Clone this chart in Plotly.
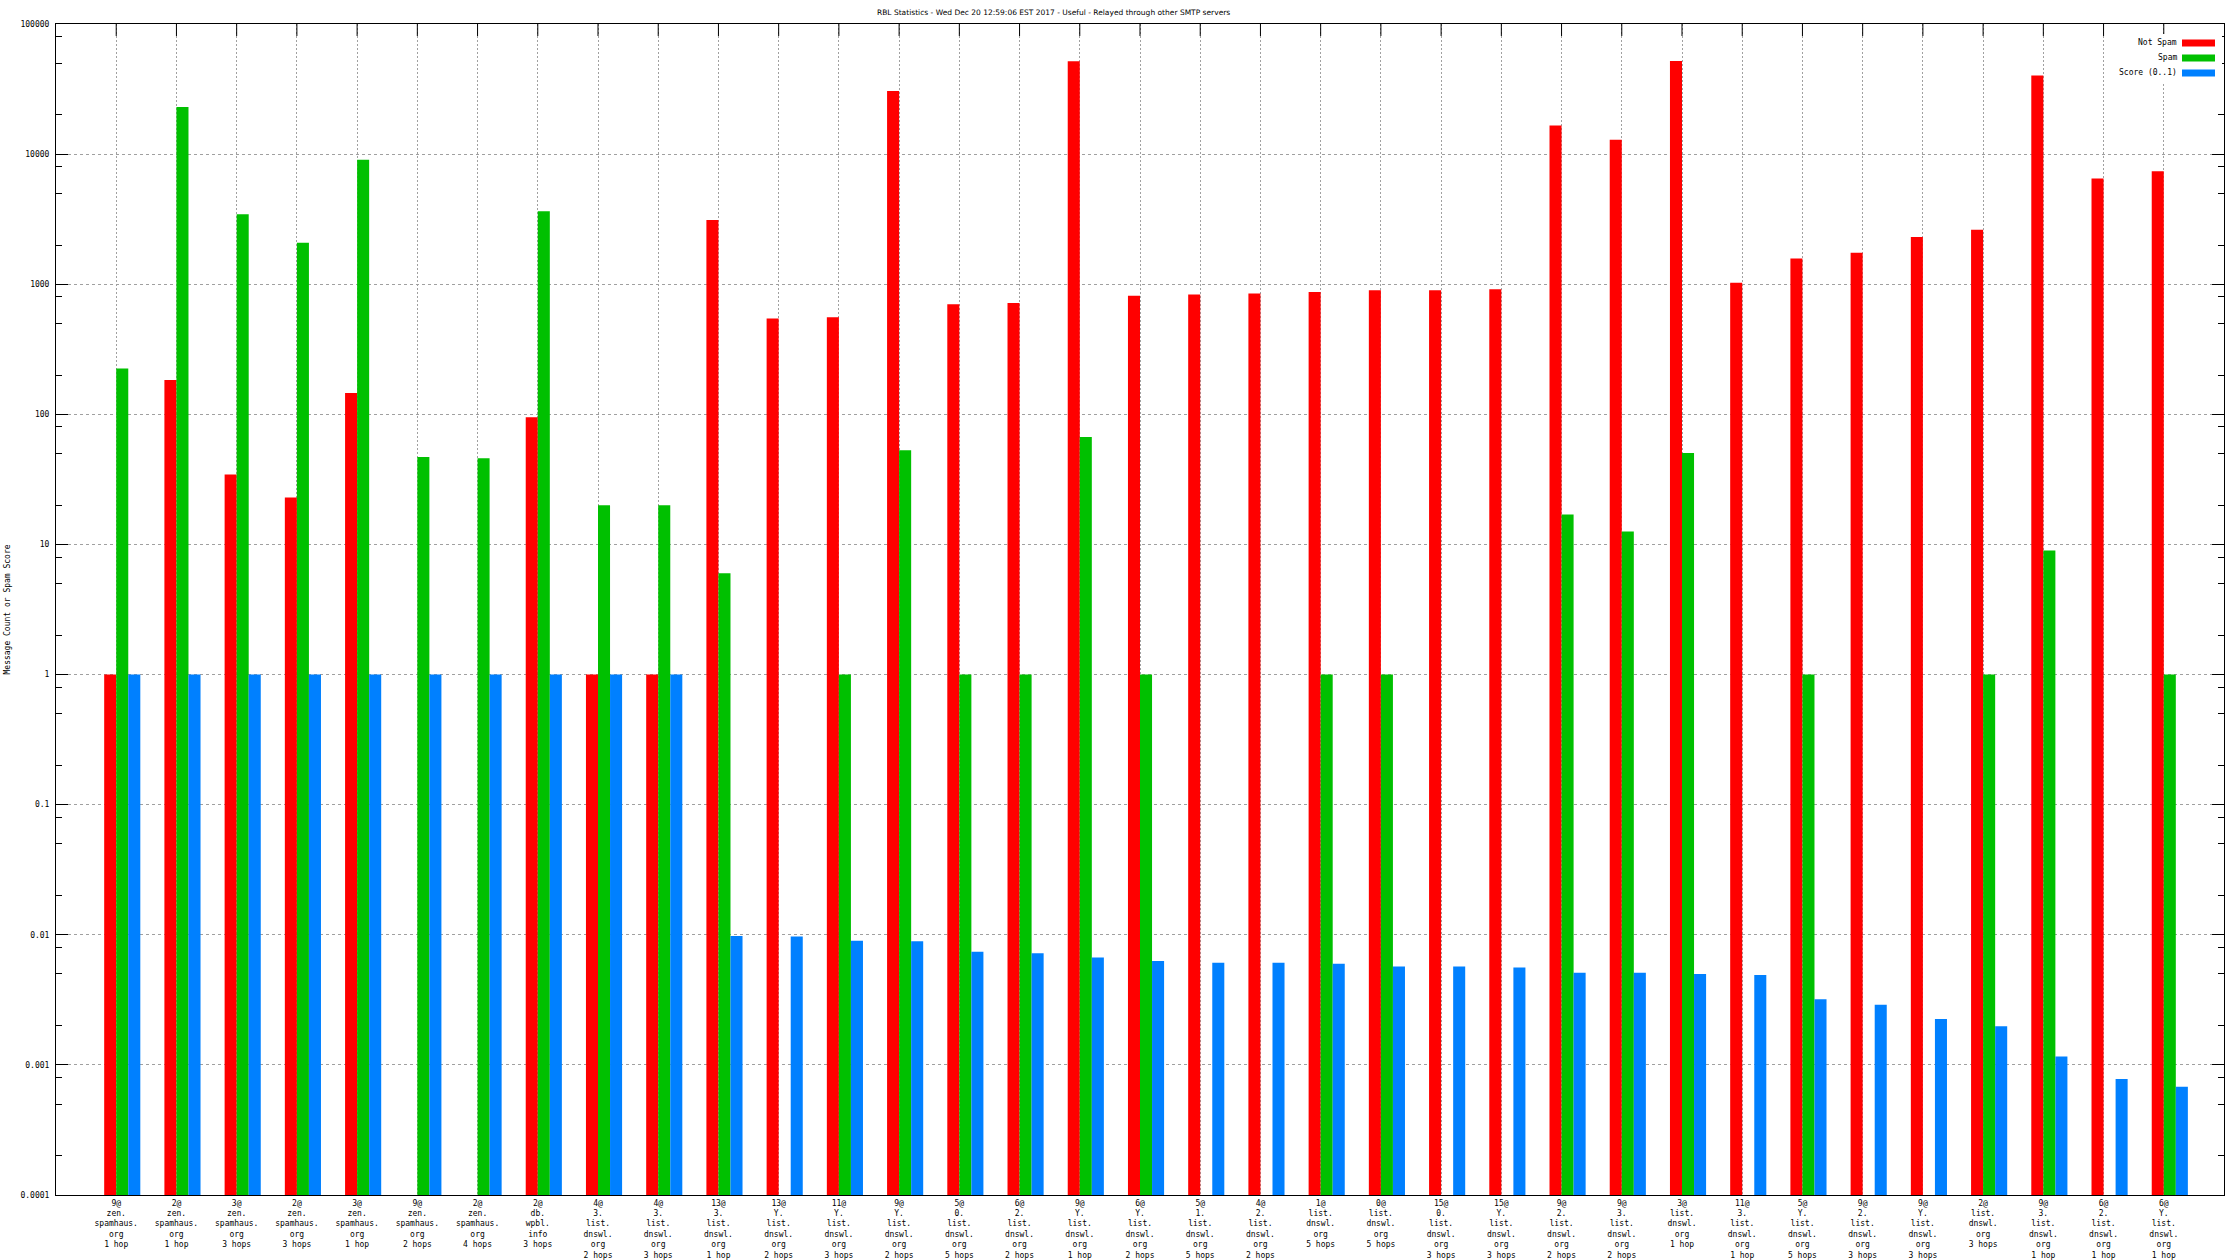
import plotly.graph_objects as go

# ---------------- data ----------------
categories = [
    "9@<br>zen.<br>spamhaus.<br>org<br>1 hop",
    "2@<br>zen.<br>spamhaus.<br>org<br>1 hop",
    "3@<br>zen.<br>spamhaus.<br>org<br>3 hops",
    "2@<br>zen.<br>spamhaus.<br>org<br>3 hops",
    "3@<br>zen.<br>spamhaus.<br>org<br>1 hop",
    "9@<br>zen.<br>spamhaus.<br>org<br>2 hops",
    "2@<br>zen.<br>spamhaus.<br>org<br>4 hops",
    "2@<br>db.<br>wpbl.<br>info<br>3 hops",
    "4@<br>3.<br>list.<br>dnswl.<br>org<br>2 hops",
    "4@<br>3.<br>list.<br>dnswl.<br>org<br>3 hops",
    "13@<br>3.<br>list.<br>dnswl.<br>org<br>1 hop",
    "13@<br>Y.<br>list.<br>dnswl.<br>org<br>2 hops",
    "11@<br>Y.<br>list.<br>dnswl.<br>org<br>3 hops",
    "9@<br>Y.<br>list.<br>dnswl.<br>org<br>2 hops",
    "5@<br>0.<br>list.<br>dnswl.<br>org<br>5 hops",
    "6@<br>2.<br>list.<br>dnswl.<br>org<br>2 hops",
    "9@<br>Y.<br>list.<br>dnswl.<br>org<br>1 hop",
    "6@<br>Y.<br>list.<br>dnswl.<br>org<br>2 hops",
    "5@<br>1.<br>list.<br>dnswl.<br>org<br>5 hops",
    "4@<br>2.<br>list.<br>dnswl.<br>org<br>2 hops",
    "1@<br>list.<br>dnswl.<br>org<br>5 hops",
    "0@<br>list.<br>dnswl.<br>org<br>5 hops",
    "15@<br>0.<br>list.<br>dnswl.<br>org<br>3 hops",
    "15@<br>Y.<br>list.<br>dnswl.<br>org<br>3 hops",
    "9@<br>2.<br>list.<br>dnswl.<br>org<br>2 hops",
    "9@<br>3.<br>list.<br>dnswl.<br>org<br>2 hops",
    "3@<br>list.<br>dnswl.<br>org<br>1 hop",
    "11@<br>3.<br>list.<br>dnswl.<br>org<br>1 hop",
    "5@<br>Y.<br>list.<br>dnswl.<br>org<br>5 hops",
    "9@<br>2.<br>list.<br>dnswl.<br>org<br>3 hops",
    "9@<br>Y.<br>list.<br>dnswl.<br>org<br>3 hops",
    "2@<br>list.<br>dnswl.<br>org<br>3 hops",
    "9@<br>3.<br>list.<br>dnswl.<br>org<br>1 hop",
    "6@<br>2.<br>list.<br>dnswl.<br>org<br>1 hop",
    "6@<br>Y.<br>list.<br>dnswl.<br>org<br>1 hop",
]

not_spam = [1, 184, 34.5, 23, 146, None, None, 95, 1, 1,
            3120, 545, 558, 30500, 702, 717, 51800, 817, 834, 850,
            870, 900, 900, 915, 16600, 12900, 52000, 1026, 1578, 1746,
            2305, 2617, 40200, 6500, 7380]

spam = [225, 23000, 3450, 2080, 9040, 47, 46, 3630, 20, 20,
        6, None, 1, 53, 1, 1, 67, 1, None, None,
        1, 1, None, None, 17, 12.6, 50.5, None, 1, None,
        None, 1, 9, None, 1]

score = [1, 1, 1, 1, 1, 1, 1, 1, 1, 1,
         0.0098, 0.0097, 0.0090, 0.0089, 0.0074, 0.0072, 0.0067, 0.0063, 0.0061, 0.0061,
         0.0060, 0.0057, 0.0057, 0.0056, 0.0051, 0.0051, 0.0050, 0.0049, 0.0032, 0.0029,
         0.00225, 0.00198, 0.00116, 0.00078, 0.00068]

series_names = ["Not Spam", "Spam", "Score (0..1)"]
series_colors = ["#ff0000", "#00c000", "#0080ff"]

y_tick_vals = [0.0001, 0.001, 0.01, 0.1, 1, 10, 100, 1000, 10000, 100000]
y_tick_text = ["0.0001", "0.001", "0.01", "0.1", "1", "10", "100", "1000", "10000", "100000"]

title_text = "RBL Statistics - Wed Dec 20 12:59:06 EST 2017 - Useful - Relayed through other SMTP servers"
y_title = "Message Count or Spam Score"

# ---------------- layout geometry ----------------
W, H = 2240, 1260
L, R, T, B = 56, 16, 24, 65
PL, PR, PT, PB = L, W - R, T, H - B

def px_x(p):
    return (p - PL) / (PR - PL)

def px_y(p):
    return (PB - p) / (PB - PT)

idx = list(range(len(categories)))
bar_w = 0.2
offsets = [-0.2, 0.0, 0.2]

FONT = "DejaVu Sans Mono"
GRID = "#a0a0a0"

fig = go.Figure()
for name, vals, col, off in zip(series_names, [not_spam, spam, score], series_colors, offsets):
    fig.add_trace(go.Bar(
        x=idx, y=vals, name=name, width=bar_w, offset=off,
        marker=dict(color=col, line=dict(width=0)),
        showlegend=False,
    ))

minor_vals = [m * 10 ** k for k in range(-4, 5) for m in (2, 5, 8)]

fig.update_layout(
    width=W, height=H,
    margin=dict(l=L, r=R, t=T, b=B, pad=0, autoexpand=False),
    paper_bgcolor="white", plot_bgcolor="white",
    barmode="overlay",
    showlegend=False,
    font=dict(family=FONT, size=8, color="black"),
    xaxis=dict(
        range=[-1, 35], tickmode="array", tickvals=idx, ticktext=categories,
        ticks="", showline=True, linecolor="black", linewidth=1, mirror=True,
        showgrid=True, gridcolor=GRID, griddash="2px,2px", gridwidth=1,
        zeroline=False, tickangle=0, automargin=False,
        tickfont=dict(family=FONT, size=8, color="black"),
    ),
    yaxis=dict(
        type="log", range=[-4, 5], tickmode="array",
        tickvals=y_tick_vals, ticktext=y_tick_text,
        ticks="inside", ticklen=12, tickwidth=1, tickcolor="black",
        showline=True, linecolor="black", linewidth=1, mirror="allticks",
        showgrid=True, gridcolor=GRID, griddash="3px,3px", gridwidth=1,
        zeroline=False, ticklabelstandoff=4, automargin=False,
        tickfont=dict(family=FONT, size=8, color="black"),
        minor=dict(tickmode="array", tickvals=minor_vals, ticks="inside",
                   ticklen=6, tickcolor="black", tickwidth=1, showgrid=False),
    ),
)

# title (as text positioned in pixels)
fig.add_annotation(text=title_text, xref="paper", yref="paper",
                   x=px_x(1053), y=px_y(12), xanchor="center", yanchor="middle",
                   showarrow=False, font=dict(family="DejaVu Sans", size=7.5, color="black"))

# top-axis category tick marks
for i in idx:
    fig.add_shape(type="line", xref="x", yref="paper", x0=i, x1=i,
                  y0=1, y1=1 - 12 / (PB - PT), line=dict(color="black", width=1),
                  layer="above")

# y-axis title
fig.add_annotation(text=y_title, textangle=-90, xref="paper", yref="paper",
                   x=px_x(7), y=px_y((PT + PB) / 2), xanchor="center", yanchor="middle",
                   showarrow=False, font=dict(family=FONT, size=8, color="black"))

# legend (text right, colour swatch to the right like gnuplot)
legend_rows = [43, 58, 73]
fig.add_shape(type="rect", xref="paper", yref="paper",
              x0=px_x(2110), x1=px_x(2222), y0=px_y(83), y1=px_y(34),
              fillcolor="white", line=dict(width=0), layer="above")
for name, col, ry in zip(series_names, series_colors, legend_rows):
    fig.add_annotation(text=name, xref="paper", yref="paper",
                       x=px_x(2179), y=px_y(ry), xanchor="right", yanchor="middle",
                       showarrow=False, font=dict(family=FONT, size=8, color="black"))
    fig.add_shape(type="rect", xref="paper", yref="paper",
                  x0=px_x(2182), x1=px_x(2215), y0=px_y(ry + 3.5), y1=px_y(ry - 3.5),
                  fillcolor=col, line=dict(width=0), layer="above")

fig.write_html("out.html",
               config={"displayModeBar": False},
               post_script="document.body.style.margin='0';document.body.style.overflow='hidden';")
